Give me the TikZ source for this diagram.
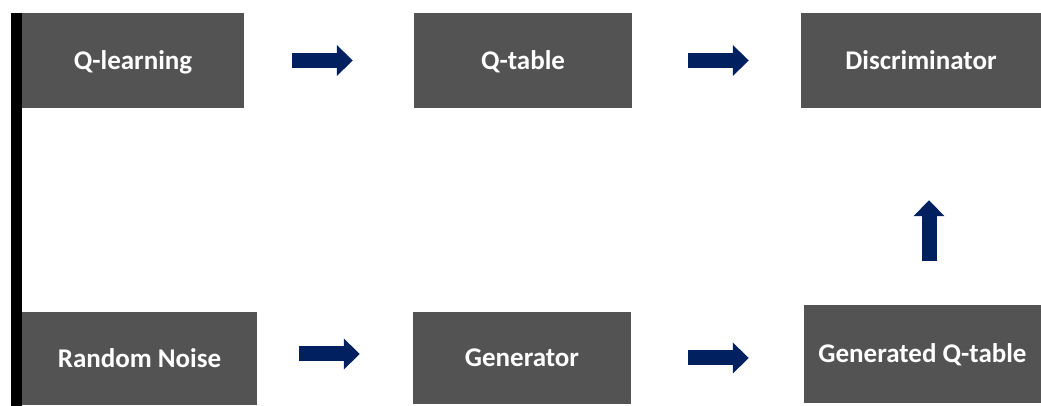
\documentclass[tikz,border=0pt]{standalone}
\usepackage{fontspec}
\setmainfont{Carlito}
\usepackage{xcolor}
\usepackage{tikz}
\usetikzlibrary{arrows.meta, positioning}

\definecolor{boxgray}{RGB}{83,83,83}
\definecolor{navy}{RGB}{0,32,96}

\begin{document}
\begin{tikzpicture}[
    x=1pt, y=1pt,
    blockbox/.style={rectangle, fill=boxgray, draw=none, text=white, inner sep=0pt, align=center, text height=21pt, text depth=3pt, font=\fontsize{27}{32}\selectfont\bfseries},
    fatarrow/.style={draw=navy, line width=15pt, -{Triangle[length=16pt,width=30pt]}}
]
\useasboundingbox (0,0) rectangle (1041,406);

\fill[black] (11,0) rectangle (22,393);

\node[blockbox, minimum width=222pt, minimum height=95pt] (qlearn) at (133,345.5) {Q-learning};
\node[blockbox, minimum width=218pt, minimum height=95pt] (qtable) at (523,345.5) {Q-table};
\node[blockbox, minimum width=240pt, minimum height=95pt] (disc) at (921,345.5) {Discriminator};
\node[blockbox, minimum width=235pt, minimum height=93pt] (noise) at (139.5,47.5) {Random Noise};
\node[blockbox, minimum width=218pt, minimum height=92pt] (gen) at (522,48) {Generator};
\node[blockbox, minimum width=237pt, minimum height=98pt] (genq) at (922.5,52) {Generated Q-table};

\draw[fatarrow] ([xshift=48pt]qlearn.east) -- ([xshift=-61pt]qtable.west);
\draw[fatarrow] ([xshift=56pt]qtable.east) -- ([xshift=-52pt]disc.west);
\draw[fatarrow] ([shift={(42pt,4.5pt)}]noise.east) -- ([shift={(-53pt,4pt)}]gen.west);
\draw[fatarrow] ([xshift=57pt]gen.east) -- ([shift={(-55pt,-4pt)}]genq.west);
\draw[fatarrow] ([shift={(6.5pt,44pt)}]genq.north) -- ([shift={(8pt,-92pt)}]disc.south);
\end{tikzpicture}
\end{document}
